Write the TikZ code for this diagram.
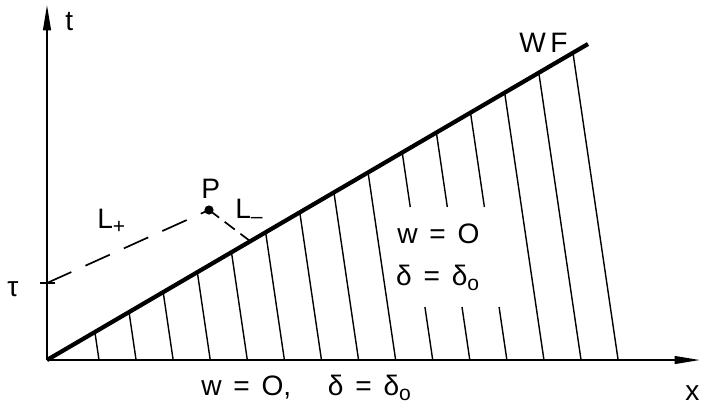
\documentclass[tikz,border=0pt]{standalone}
\usepackage{fontspec}
\setmainfont{Liberation Sans}
\usetikzlibrary{arrows.meta}

\begin{document}
\begin{tikzpicture}[>={Triangle[length=18pt,width=5.5pt]},
  lbl/.style={anchor=base west,inner sep=0pt,font=\fontsize{20}{24}\selectfont},
  hatch/.style={line width=1pt},
  axis/.style={line width=1.3pt,->}]
  \useasboundingbox (-1.175,-1.15) rectangle (16.375,9.0);
  \newcommand{\gp}{\hspace{0.42em}}
  \newcommand{\sub}[1]{\raisebox{-4pt}{\fontsize{15}{15}\selectfont #1}}
  \coordinate (O) at (0,0);
  \coordinate (xend) at (16.325,0);
  \coordinate (tend) at (0,8.875);
  \coordinate (WFend) at (13.525,7.9);
  \coordinate (tau) at (0,1.925);
  \coordinate (P) at (4.05,3.75);
  \coordinate (Q) at (5.083,2.969);
  % axes
  \draw[axis] (O) -- (xend);
  \draw[axis] (O) -- (tend);
  \draw[line width=1.2pt] (-0.175,1.925) -- (0.2,1.925);
  % hatching below the wave front
  \foreach \i in {0,...,14} {
    \pgfmathsetmacro\b{1.3+0.927*\i}
    \pgfmathsetmacro\t{0.5378*\b}
    \ifnum\i>8 \ifnum\i<12
      \draw[hatch] (\b,0) -- ({\b-0.147*1.325},1.325);
      \draw[hatch] ({\b-0.147*3.825},3.825) -- ({\b-0.147*\t},\t);
    \fi\fi
    \ifnum\i<9 \draw[hatch] (\b,0) -- ({\b-0.147*\t},\t); \fi
    \ifnum\i>11 \draw[hatch] (\b,0) -- ({\b-0.147*\t},\t); \fi
  }
  \draw[line width=3pt] (O) -- (WFend);
  % characteristics through P
  \draw[line width=1.2pt,dash pattern=on 19pt off 11pt] (tau) -- (P);
  \draw[line width=1.2pt,dash pattern=on 9pt off 5pt] (P) -- (Q);
  \fill (P) circle (0.115);
  % labels
  \node[lbl] (tlab) at (0.45,8.25) {t};
  \node[lbl] (taulab) at (-1.0,1.6) {τ};
  \node[lbl] (Plab) at (3.85,4.05) {P};
  \node[lbl] (Lp) at (1.25,3.3) {L\sub{+}};
  \node[lbl] (Lm) at (4.7,3.55) {L\sub{–}};
  \node[lbl] (WF) at (11.8,7.7) {W\,F};
  \node[lbl] (reg1) at (8.75,2.925) {w\gp=\gp O};
  \node[lbl] (reg2) at (8.72,1.875) {δ\gp=\gp δ\sub{o}};
  \node[lbl] (bot) at (3.85,-0.875) {w\gp=\gp O,\hspace{1.3em}δ\gp=\gp δ\sub{o}};
  \node[lbl] (xlab) at (15.95,-1.0) {x};
\end{tikzpicture}
\end{document}
